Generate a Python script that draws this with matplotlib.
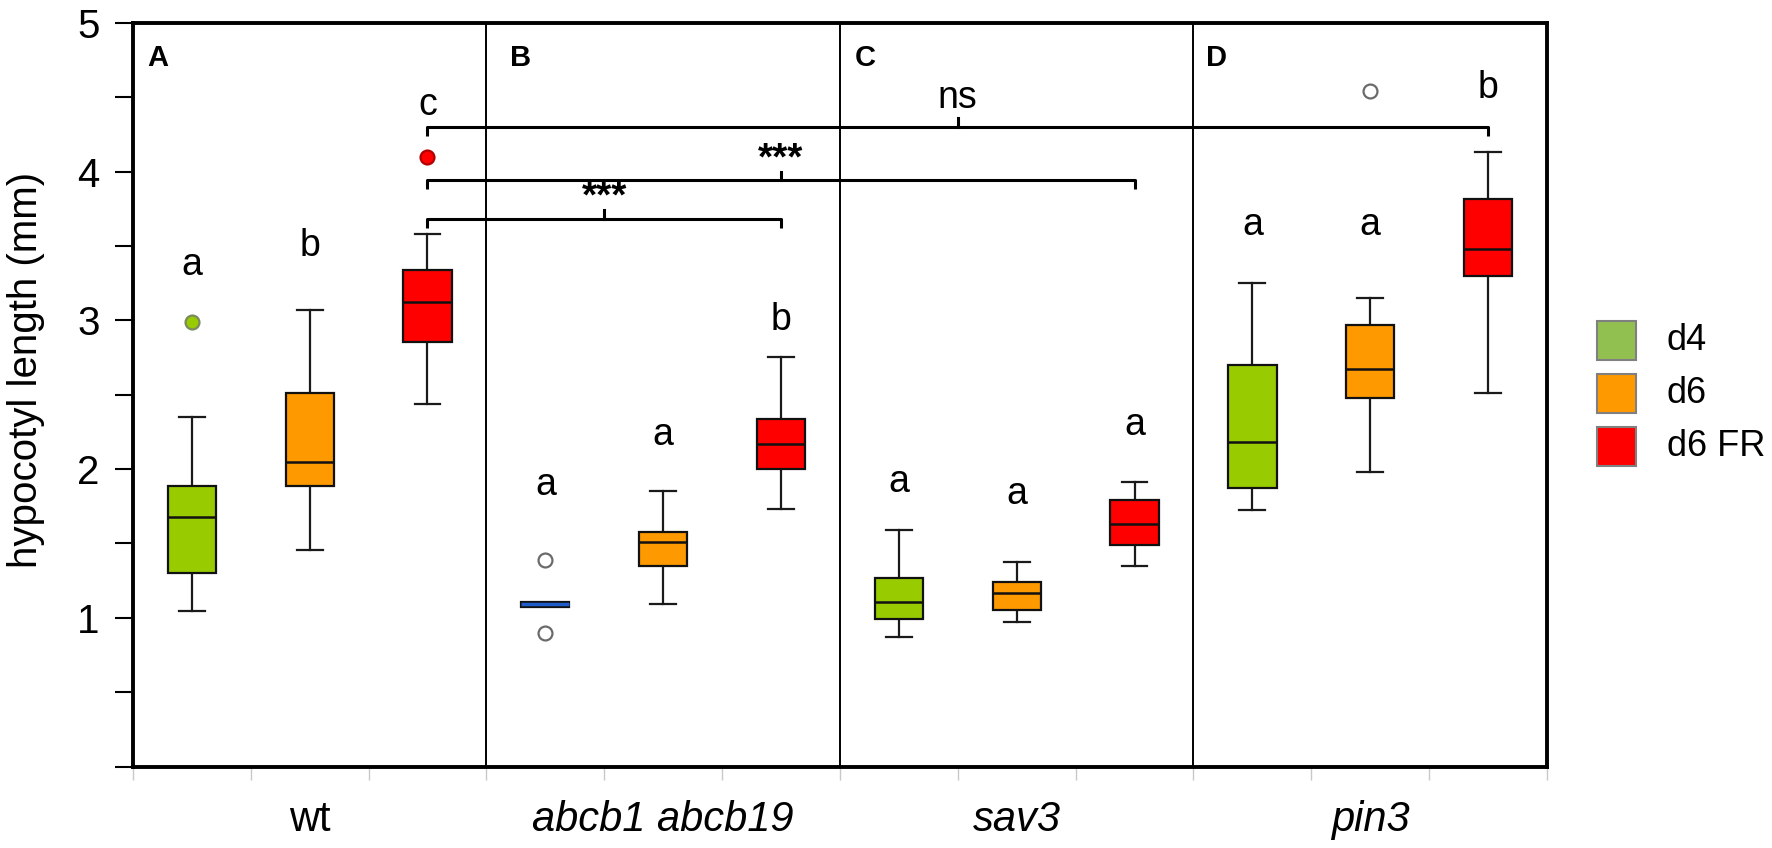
import numpy as np
import matplotlib
matplotlib.use("Agg")
import matplotlib.pyplot as plt
from matplotlib.patches import Rectangle
from matplotlib.transforms import blended_transform_factory

plt.rcParams['font.family'] = ['Liberation Sans', 'DejaVu Sans']

# ---------------- data ----------------
groups = ['wt', 'abcb1 abcb19', 'sav3', 'pin3']
group_italic = [False, True, True, True]
panel_labels = ['A', 'B', 'C', 'D']
conditions = ['d4', 'd6', 'd6 FR']

# one entry per box: wt(d4,d6,FR), abcb(d4,d6,FR), sav3(...), pin3(...)
whislo = [1.045, 1.457, 2.44, 1.09, 1.09, 1.735, 0.87, 0.97, 1.35, 1.725, 1.98, 2.51]
q1     = [1.30, 1.886, 2.856, 1.075, 1.35, 2.00, 0.99, 1.05, 1.49, 1.87, 2.48, 3.30]
median = [1.68, 2.05, 3.12, 1.09, 1.51, 2.17, 1.11, 1.17, 1.63, 2.18, 2.67, 3.48]
q3     = [1.886, 2.51, 3.34, 1.105, 1.58, 2.34, 1.27, 1.24, 1.795, 2.70, 2.97, 3.815]
whishi = [2.35, 3.07, 3.58, 1.105, 1.85, 2.755, 1.59, 1.376, 1.91, 3.25, 3.15, 4.13]
fliers = [[2.99], [], [4.10], [1.39, 0.90], [], [], [], [], [], [], [4.54], []]

letters  = ['a', 'b', 'c', 'a', 'a', 'b', 'a', 'a', 'a', 'a', 'a', 'b']
letter_y = [3.306, 3.434, 4.378, 1.829, 2.164, 2.936, 1.846, 1.768, 2.23, 3.574, 3.574, 4.497]

comp_pairs = [(2, 5), (2, 8), (2, 11)]
comp_y = [3.68, 3.94, 4.30]
comp_text = ['***', '***', 'ns']

# ---------------- styles ----------------
box_colors = ['#99cc00', '#ff9900', '#ff0000']
legend_colors = ['#92c050', '#ff9900', '#ff0000']

fig = plt.figure(figsize=(17.72, 8.48), dpi=100)
ax = fig.add_axes([0.075, 0.0959, 0.798, 0.8773])

n = len(median)
pos = np.arange(n) + 0.5
stats = [dict(med=median[i], q1=q1[i], q3=q3[i], whislo=whislo[i],
              whishi=whishi[i], fliers=[]) for i in range(n)]
art = ax.bxp(stats, positions=pos, widths=0.41, capwidths=0.22,
             patch_artist=True, showfliers=False,
             boxprops=dict(linewidth=1.6, edgecolor='#111111'),
             medianprops=dict(color='#111111', linewidth=1.8),
             whiskerprops=dict(color='#1a1a1a', linewidth=1.6),
             capprops=dict(color='#1a1a1a', linewidth=1.6))
for i, b in enumerate(art['boxes']):
    b.set_facecolor(box_colors[i % 3])
    b.set_zorder(3)
for m in art['medians']:
    m.set_zorder(4)
# collapsed box (abcb1 abcb19, d4)
art['boxes'][3].set_facecolor('#1f5cc8')
art['medians'][3].set_color('#1f5cc8')
art['medians'][3].set_linewidth(2.5)
for k in (6, 7):
    art['caps'][k].set_visible(False)
    art['whiskers'][k].set_visible(False)

# outliers
for i in range(n):
    for v in fliers[i]:
        if i == 0:
            mfc, mec = box_colors[0], '#7a8a60'
        elif i == 2:
            mfc, mec = box_colors[2], '#b00000'
        else:
            mfc, mec = 'white', '#6a6a6a'
        ax.plot(pos[i], v, 'o', ms=10, mfc=mfc, mec=mec, mew=1.6, zorder=5)

# panel dividers
for b in np.arange(1, len(groups)) * 3:
    ax.axvline(b, color='black', lw=1.4, zorder=1)

# significance letters
for i in range(n):
    ax.text(pos[i], letter_y[i], letters[i], ha='center', va='baseline',
            fontsize=27)

# panel letters
offs = [0.12, 0.2, 0.13, 0.11]
for g, lab in enumerate(panel_labels):
    ax.text(g * 3 + offs[g], 4.76, lab, ha='left', va='center',
            fontsize=21, fontweight='bold')

# comparison brackets
h = 0.06
for (a, b), y, t in zip(comp_pairs, comp_y, comp_text):
    x1, x2 = pos[a], pos[b]
    xm = (x1 + x2) / 2
    ax.plot([x1, x1, x2, x2], [y - h, y, y, y - h], color='black', lw=2.2,
            solid_capstyle='butt', zorder=6)
    ax.plot([xm, xm], [y, y + h], color='black', lw=2.2, zorder=6)
    if t == 'ns':
        ax.text(xm, y + 0.13, t, ha='center', va='baseline', fontsize=27)
    else:
        ax.text(xm, y + 0.075, t, ha='center', va='baseline', fontsize=28,
                fontweight='bold')

# axes
ax.set_xlim(0, 12)
ax.set_ylim(0, 5)
ax.set_xticks([])
ax.set_xticks(np.arange(13), minor=True)
ax.tick_params(axis='x', which='minor', length=9, width=1, color='#c8c8c8',
               direction='out')
ax.set_yticks(np.arange(6))
ax.set_yticklabels([''] + [str(v) for v in range(1, 6)])
ax.set_yticks(np.arange(0.5, 5, 1.0), minor=True)
ax.tick_params(axis='y', which='both', length=13, width=1.5, direction='out',
               labelsize=29, pad=11)
for s in ax.spines.values():
    s.set_linewidth(2.8)

ax.set_ylabel('hypocotyl length (mm)', fontsize=29)
ax.yaxis.set_label_coords(-0.062, 0.533)

tr = blended_transform_factory(ax.transData, ax.transAxes)
for g, name in enumerate(groups):
    ax.text(g * 3 + 1.5, -0.0717, name, transform=tr, ha='center',
            va='center', fontsize=30,
            style='italic' if group_italic[g] else 'normal')

# legend
w, hh = 39 / 1772, 39 / 848
x0 = 1597 / 1772
ycs = [1 - 341 / 848, 1 - 394 / 848, 1 - 446.5 / 848]
for lab, col, yc in zip(conditions, legend_colors, ycs):
    fig.patches.append(Rectangle((x0, yc - hh / 2), w, hh,
                                 transform=fig.transFigure, facecolor=col,
                                 edgecolor='#808080', lw=1.5))
    fig.text(1667 / 1772, yc, lab, ha='left', va='center', fontsize=26)

fig.savefig('out.png', dpi=100)
